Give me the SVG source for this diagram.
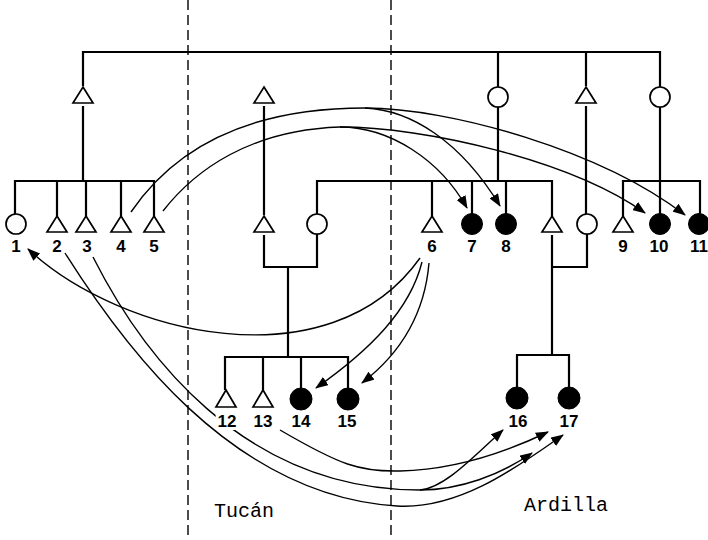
<svg xmlns="http://www.w3.org/2000/svg" width="708" height="540" viewBox="0 0 708 540">
<style>
.ln{stroke:#000;stroke-width:2.2;fill:none;stroke-linecap:square}
.cv{stroke:#000;stroke-width:1.4;fill:none}
.ar{marker-end:url(#ah)}
.dash{stroke:#000;stroke-width:1.4;stroke-dasharray:10 5;fill:none}
.op{fill:#fff;stroke:#000;stroke-width:1.7}
.fl{fill:#000;stroke:#000;stroke-width:1}
.lb{font-family:"Liberation Sans",Arial,sans-serif;font-weight:bold;font-size:17px;text-anchor:middle;fill:#000}
.halo{stroke:#fff;stroke-width:6;paint-order:stroke}
.grp{font-family:"Liberation Mono","Courier New",monospace;font-size:20px;fill:#000}
</style>
<defs>
<marker id="ah" viewBox="0 0 13 10" refX="12" refY="5" markerWidth="13" markerHeight="10" markerUnits="userSpaceOnUse" orient="auto">
<path d="M0,0 L13,5 L0,10 Z" fill="#000"/>
</marker>
</defs>
<rect width="708" height="540" fill="#fff"/>
<g id="dividers">
<line class="dash" x1="188" y1="0" x2="188" y2="540"/>
<line class="dash" x1="391" y1="0" x2="391" y2="540"/>
</g>
<g id="connectors">
<path class="ln" d="M83,52 H660 M83,52 V85 M498,52 V86 M586,52 V85 M660,52 V86"/>
<path class="ln" d="M83,107 V181 M498,107 V181 M586,107 V214 M660,107 V181 M264,107 V214"/>
<path class="ln" d="M15,181 H154 M15,181 V214 M57,181 V215 M86,181 V215 M121,181 V215 M154,181 V215"/>
<path class="ln" d="M317,181 H552 M317,181 V214 M432,181 V215 M472,181 V213 M506,181 V213 M552,181 V215"/>
<path class="ln" d="M623,181 H700 M623,181 V215 M660,181 V213 M700,181 V213"/>
<path class="ln" d="M264,236 V267 H317 V234 M288,267 V357 M552,236 V355 M552,267 H587 V234"/>
<path class="ln" d="M225,357 H348 M225,357 V389 M263,357 V389 M301,357 V388 M348,357 V388"/>
<path class="ln" d="M517,355 H569 M517,355 V387 M569,355 V387"/>
<path class="cv" d="M131,212 C180,140 260,108 365,108"/>
<path class="cv ar" d="M365,108 C410,110 460,140 500,206"/>
<path class="cv ar" d="M365,108 C450,108 600,150 685,215"/>
<path class="cv" d="M163,211 C195,170 250,130 340,127"/>
<path class="cv ar" d="M340,127 C390,127 440,160 467,208"/>
<path class="cv ar" d="M340,127 C425,127 570,160 645,213"/>
<path class="cv ar" d="M420,258 C330,385 120,335 28,249"/>
<path class="cv ar" d="M422,262 C410,310 370,350 316,388"/>
<path class="cv ar" d="M429,263 C425,310 405,350 362,383"/>
<path class="cv ar" d="M65,253 C120,340 230,496 397,506 C460,510 520,465 563,435"/>
<path class="cv" d="M93,257 C140,350 240,490 420,490"/>
<path class="cv ar" d="M420,490 C445,488 475,455 503,430"/>
<path class="cv ar" d="M420,490 C460,490 500,475 532,453"/>
<path class="cv ar" d="M280,430 C340,465 360,472 400,471 C450,470 500,455 548,432"/>
</g>
<g id="n-topA"><polygon class="op" points="83,87 93,103 73,103"/></g>
<g id="n-topB"><circle class="op" cx="498" cy="97" r="10"/></g>
<g id="n-topC"><polygon class="op" points="586,87 596,103 576,103"/></g>
<g id="n-topD"><circle class="op" cx="660" cy="97" r="10"/></g>
<g id="n-tucan-top"><polygon class="op" points="264,87 274,103 254,103"/></g>
<g id="n1"><circle class="op" cx="16" cy="224" r="10"/><text class="lb" x="16" y="252">1</text></g>
<g id="n2"><polygon class="op" points="57,216 67,232 47,232"/><text class="lb" x="57" y="252">2</text></g>
<g id="n3"><polygon class="op" points="86,216 96,232 76,232"/><text class="lb" x="87" y="252">3</text></g>
<g id="n4"><polygon class="op" points="121,216 131,232 111,232"/><text class="lb" x="121" y="252">4</text></g>
<g id="n5"><polygon class="op" points="154,216 164,232 144,232"/><text class="lb" x="154" y="252">5</text></g>
<g id="n-tucan-m"><polygon class="op" points="264,216 274,232 254,232"/></g>
<g id="n-tucan-f"><circle class="op" cx="317" cy="224" r="10"/></g>
<g id="n6"><polygon class="op" points="432,216 442,232 422,232"/><text class="lb" x="432" y="252">6</text></g>
<g id="n7"><circle class="fl" cx="472" cy="224" r="10.5"/><text class="lb" x="472" y="252">7</text></g>
<g id="n8"><circle class="fl" cx="506" cy="224" r="10.5"/><text class="lb" x="506" y="252">8</text></g>
<g id="n-ardilla-m"><polygon class="op" points="552,216 562,232 542,232"/></g>
<g id="n-ardilla-f"><circle class="op" cx="587" cy="224" r="10"/></g>
<g id="n9"><polygon class="op" points="623,216 633,232 613,232"/><text class="lb" x="623" y="252">9</text></g>
<g id="n10"><circle class="fl" cx="660" cy="224" r="10.5"/><text class="lb" x="659" y="252">10</text></g>
<g id="n11"><circle class="fl" cx="699" cy="224" r="10.5"/><text class="lb" x="699" y="252">11</text></g>
<g id="n12"><polygon class="op" points="226,390 236,407 216,407"/><text class="lb halo" x="227" y="427">12</text></g>
<g id="n13"><polygon class="op" points="263,390 273,407 253,407"/><text class="lb" x="263" y="427">13</text></g>
<g id="n14"><circle class="fl" cx="301" cy="399" r="11"/><text class="lb" x="301" y="427">14</text></g>
<g id="n15"><circle class="fl" cx="348" cy="399" r="11"/><text class="lb" x="347" y="427">15</text></g>
<g id="n16"><circle class="fl" cx="517" cy="398" r="11"/><text class="lb" x="518" y="427">16</text></g>
<g id="n17"><circle class="fl" cx="569" cy="398" r="11"/><text class="lb" x="569" y="427">17</text></g>
<g id="labels">
<text class="grp" x="214" y="517">Tucán</text>
<text class="grp" x="524" y="511">Ardilla</text>
</g>
</svg>
